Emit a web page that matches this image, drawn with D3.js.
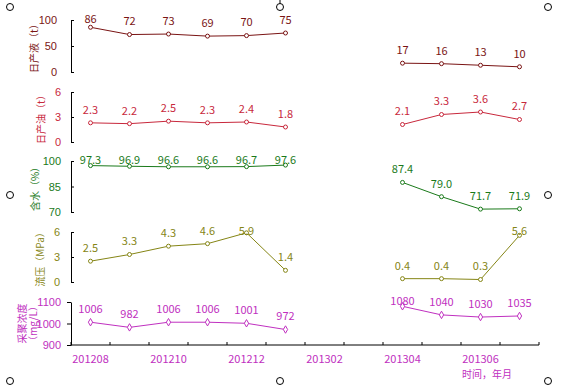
<!DOCTYPE html>
<html>
<head>
<meta charset="utf-8">
<script src="https://cdn.jsdelivr.net/npm/d3@7"></script>
<style>
  body { margin: 0; background: #fff; }
  svg { display: block; font-family: "Noto Sans CJK SC", "DejaVu Sans", sans-serif; }
</style>
</head>
<body>
<div id="chart"></div>
<script>
// months on the shared x axis (201302, 201303 have no data)
let months = ["201208", "201209", "201210", "201211", "201212", "201301",
              "201302", "201303", "201304", "201305", "201306", "201307"];
let monthLabels = ["201208", "201210", "201212", "201302", "201304", "201306"];

// series, null = no measurement
let liquid = [86, 72, 73, 69, 70, 75, null, null, 17, 16, 13, 10];
let oil = [2.3, 2.2, 2.5, 2.3, 2.4, 1.8, null, null, 2.1, 3.3, 3.6, 2.7];
let water = [97.3, 96.9, 96.6, 96.6, 96.7, 97.6, null, null, 87.4, 79.0, 71.7, 71.9];
let pressure = [2.5, 3.3, 4.3, 4.6, 5.9, 1.4, null, null, 0.4, 0.4, 0.3, 5.6];
let polymer = [1006, 982, 1006, 1006, 1001, 972, null, null, 1080, 1040, 1030, 1035];

let width = 575, height = 389;
let axisX = 71, axisEnd = 539;

let svg = d3.select("#chart")
    .append("svg")
    .attr("width", width)
    .attr("height", height);

let x = d3.scaleBand()
    .domain(months)
    .range([axisX, axisEnd]);

// one panel per series, stacked
let panels = [
  { data: liquid, domain: [0, 100], ticks: [0, 50, 100], top: 20, bottom: 72, color: "#7a1414",
    title: ["日产液（t）"], tx: 34, fmt: d3.format("d"), pad: 14, inner: true },
  { data: oil, domain: [0, 6], ticks: [0, 3, 6], top: 92, bottom: 142, color: "#c8283c",
    title: ["日产油（t）"], tx: 41, fmt: d3.format(".1f"), pad: 10, inner: true },
  { data: water, domain: [70, 100], ticks: [70, 85, 100], top: 161, bottom: 212, color: "#1a7a1a",
    title: ["含水（%）"], tx: 35, fmt: d3.format(".1f"), pad: 10, inner: true },
  { data: pressure, domain: [0, 6], ticks: [0, 3, 6], top: 232, bottom: 282, color: "#858515",
    title: ["流压（MPa）"], tx: 40, fmt: d3.format(".1f"), pad: 11, inner: true },
  { data: polymer, domain: [900, 1100], ticks: [900, 1000, 1100], top: 302, bottom: 345, color: "#c030c0",
    title: ["采聚浓度", "（mg/L）"], tx: 22, fmt: d3.format("d"), pad: 6, inner: false }
];

panels.forEach(function(p) {
  let y = d3.scaleLinear().domain(p.domain).range([p.bottom, p.top]);

  // y axis
  let axis = d3.axisLeft(y)
      .tickValues(p.ticks)
      .tickFormat(d3.format("d"))
      .tickSizeInner(p.inner ? -3 : 4)
      .tickSizeOuter(0)
      .tickPadding(p.pad);
  let g = svg.append("g")
      .attr("transform", `translate(${axisX}, 0)`)
      .call(axis);
  g.select(".domain").attr("stroke", "#000");
  g.selectAll(".tick line").attr("stroke", "#000");
  g.selectAll(".tick text")
      .attr("fill", p.color)
      .style("font-size", "11px");

  // rotated title
  let cy = (p.top + p.bottom) / 2;
  let t = svg.append("text")
      .attr("transform", `translate(${p.tx}, ${cy}) rotate(-90)`)
      .attr("text-anchor", "middle")
      .attr("fill", p.color)
      .style("font-size", "10px");
  p.title.forEach(function(s, i) {
    t.append("tspan")
        .attr("x", 0)
        .attr("dy", i == 0 ? "0.35em" : "1.1em")
        .text(s);
  });

  let pts = p.data.map(function(d, i) { return { m: months[i], v: d }; });

  let line = d3.line()
      .defined(function(d) { return d.v != null; })
      .x(function(d) { return x(d.m) + x.bandwidth() / 2; })
      .y(function(d) { return y(d.v); });

  svg.append("path")
      .datum(pts)
      .attr("fill", "none")
      .attr("stroke", p.color)
      .attr("stroke-width", 1)
      .attr("d", line);

  let valid = pts.filter(function(d) { return d.v != null; });

  // markers
  if (p.inner) {
    svg.append("g").selectAll("circle")
        .data(valid)
        .enter()
        .append("circle")
        .attr("cx", function(d) { return x(d.m) + x.bandwidth() / 2; })
        .attr("cy", function(d) { return y(d.v); })
        .attr("r", 2)
        .attr("fill", "#fff")
        .attr("stroke", p.color);
  } else {
    svg.append("g").selectAll("path")
        .data(valid)
        .enter()
        .append("path")
        .attr("d", d3.symbol(d3.symbolDiamond, 16))
        .attr("transform", function(d) { return `translate(${x(d.m) + x.bandwidth() / 2}, ${y(d.v)})`; })
        .attr("fill", "#fff")
        .attr("stroke", p.color);
  }

  // value labels above points, kept near the top of the panel
  svg.append("g").selectAll("text")
      .data(valid)
      .enter()
      .append("text")
      .attr("x", function(d) { return x(d.m) + x.bandwidth() / 2; })
      .attr("y", function(d) { return Math.max(y(d.v) - 13, p.top - 1); })
      .attr("dy", "0.35em")
      .attr("text-anchor", "middle")
      .attr("fill", p.color)
      .style("font-size", "11px")
      .text(function(d) { return p.fmt(d.v); });
});

// x axis: ticks on month boundaries, labels every second month
let xAxisY = 345;
svg.append("line")
    .attr("x1", axisX).attr("x2", axisEnd)
    .attr("y1", xAxisY).attr("y2", xAxisY)
    .attr("stroke", "#000");
svg.append("g").selectAll("line")
    .data(d3.range(months.length + 1))
    .enter()
    .append("line")
    .attr("x1", function(i) { return axisX + i * x.step(); })
    .attr("x2", function(i) { return axisX + i * x.step(); })
    .attr("y1", xAxisY)
    .attr("y2", xAxisY - 3)
    .attr("stroke", "#000");
svg.append("g").selectAll("text")
    .data(monthLabels)
    .enter()
    .append("text")
    .attr("x", function(d) { return x(d) + x.bandwidth() / 2; })
    .attr("y", 359)
    .attr("dy", "0.35em")
    .attr("text-anchor", "middle")
    .attr("fill", "#c030c0")
    .style("font-size", "11px")
    .text(function(d) { return d; });
svg.append("text")
    .attr("x", 487)
    .attr("y", 374)
    .attr("dy", "0.35em")
    .attr("text-anchor", "middle")
    .attr("fill", "#c030c0")
    .style("font-size", "10px")
    .text("时间，年月");

// selection handles round the chart object
let handles = [[10, 7], [280, 7], [548, 7], [10, 195], [548, 195], [10, 381], [280, 381], [548, 381]];
svg.append("g").selectAll("circle")
    .data(handles)
    .enter()
    .append("circle")
    .attr("cx", function(d) { return d[0]; })
    .attr("cy", function(d) { return d[1]; })
    .attr("r", 3.5)
    .attr("fill", "#fff")
    .attr("stroke", "#000");
svg.append("line")
    .attr("x1", 280).attr("x2", 280)
    .attr("y1", 0).attr("y2", 3.5)
    .attr("stroke", "#000");
</script>
</body>
</html>
